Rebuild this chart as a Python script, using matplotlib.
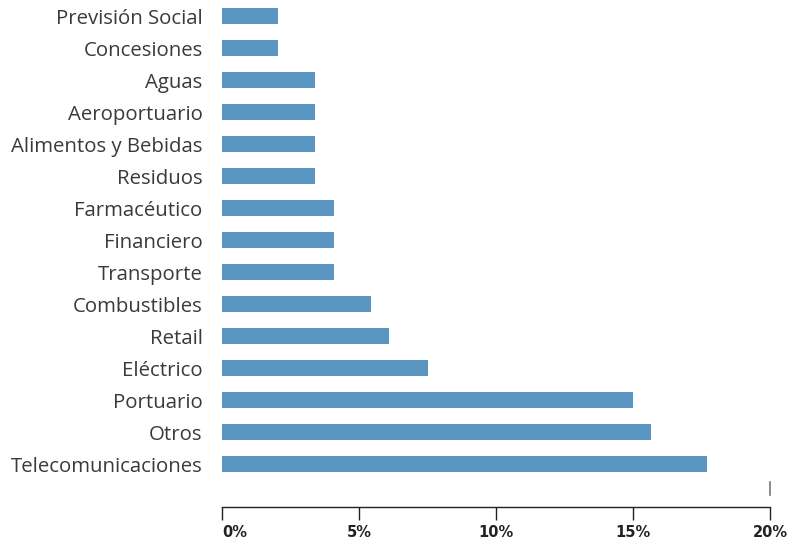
import matplotlib.pyplot as plt
import matplotlib.transforms as mtransforms

# Datos (de abajo hacia arriba)
sectores = ["Telecomunicaciones", "Otros", "Portuario", "Eléctrico", "Retail",
            "Combustibles", "Transporte", "Financiero", "Farmacéutico",
            "Residuos", "Alimentos y Bebidas", "Aeroportuario", "Aguas",
            "Concesiones", "Previsión Social"]
porcentajes = [17.7, 15.65, 15.0, 7.5, 6.1, 5.45, 4.1, 4.1, 4.1,
               3.4, 3.4, 3.4, 3.4, 2.05, 2.05]
ticks_x = [0, 5, 10, 15, 20]
etiquetas_x = ["0%", "5%", "10%", "15%", "20%"]

fig = plt.figure(figsize=(7.96, 5.4), dpi=100)
ax = fig.add_axes([222 / 796, 1 - 507 / 540, (770 - 222) / 796, 507 / 540])

pos = list(range(len(sectores)))
ax.barh(pos, porcentajes, height=0.5, color="#5b96c2")

ax.set_xlim(0, 20)
ax.set_ylim(-1.34, 14.5)
ax.set_yticks(pos)
ax.set_yticklabels(sectores, fontsize=14.7, color="#3a3a3a", family="Open Sans")
ax.tick_params(axis="y", length=0, pad=14)

ax.set_xticks(ticks_x)
ax.set_xticklabels(etiquetas_x, fontsize=10.5, fontweight="bold", color="#222222",
                   family="DejaVu Sans")
ax.tick_params(axis="x", length=9, width=1, color="#222222", pad=4)
# la etiqueta 0% va alineada a la izquierda
ax.get_xticklabels()[0].set_horizontalalignment("left")

for lado in ["top", "right", "left"]:
    ax.spines[lado].set_visible(False)
ax.spines["bottom"].set_color("#222222")
ax.spines["bottom"].set_linewidth(1)

# pequeña marca sobre el eje en 20%
trans = mtransforms.blended_transform_factory(ax.transData, ax.transAxes)
ax.plot([20, 20], [12 / 507, 25 / 507], color="#777777", lw=1.2,
        transform=trans, clip_on=False)

fig.savefig("out.png", dpi=100)
